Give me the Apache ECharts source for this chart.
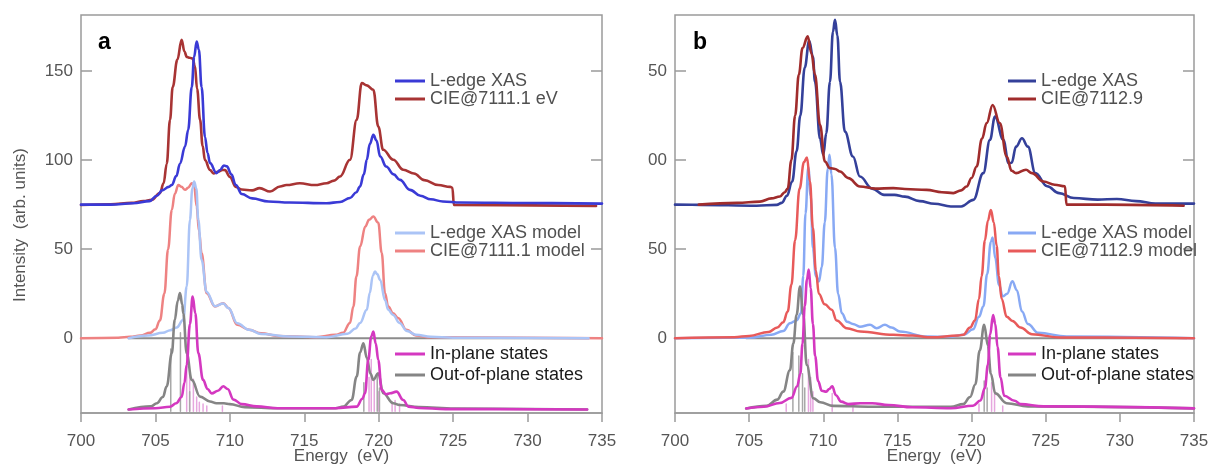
<!DOCTYPE html>
<html><head><meta charset="utf-8">
<script src="https://cdn.jsdelivr.net/npm/echarts@6/dist/echarts.min.js"></script>
<style>html,body{margin:0;padding:0;background:#fff}#c{width:1213px;height:468px}</style>
</head><body><div id="c"></div>
<script>
// ---------- tick labels ----------
const xTicks = [700,705,710,715,720,725,730,735];
const yTicks = [0,50,100,150];
const yLabelsA = ['0','50','100','150'];
const yLabelsB = ['0','50','00','50'];

// ---------- panel a ----------
const aXasExp = [[700,75],[702,75],[703.5,75.8],[704.6,77],[705.1,80],[705.45,83],[705.9,85],[706.1,86],[706.4,91],[706.65,98],[706.99,107.6],[707.2,117],[707.44,141],[707.6,158],[707.77,166.6],[707.92,162],[708.1,141],[708.33,113],[708.5,104],[708.67,98.3],[709.1,92.7],[709.35,94.5],[709.6,97],[709.8,96.5],[710.1,92],[710.4,86],[710.8,81],[711.5,78.5],[712.6,76.8],[714,76.2],[716.5,75.8],[717.4,76.5],[718.07,78.7],[718.5,82],[718.74,85.2],[719.0,92],[719.2,100.2],[719.4,109],[719.64,114.2],[719.85,111],[720.1,102],[720.5,96.4],[721.0,92],[721.43,88.9],[722.1,83.3],[722.8,80],[723.5,78],[724.3,76.8],[725.5,76.2],[730,75.9],[735,75.6]];
const aCieExp = [[700,74.8],[702,75.2],[703.4,76],[704.2,77],[704.75,77.7],[705.3,81.5],[705.55,87],[705.76,98],[705.98,122.6],[706.16,141],[706.47,156.3],[706.76,167.6],[706.95,161],[707.1,158],[707.3,157.5],[707.5,157],[707.65,153],[707.8,140],[708.0,122.6],[708.17,108],[708.33,100],[708.67,94.5],[708.9,92.5],[709.2,93.5],[709.5,94.5],[709.67,94.4],[710.0,90.6],[710.4,85],[710.8,83.5],[711.5,83],[712.0,84.3],[712.7,82.4],[713.37,85.2],[713.8,86],[714.7,87],[715.7,86],[716.5,87],[717.0,88.5],[717.4,90.8],[718.07,100.2],[718.52,122.6],[718.86,143.3],[719.2,142],[719.64,139.5],[719.97,118.9],[720.3,105.8],[720.98,100.2],[721.65,94.6],[722.37,92.5],[723.06,88.8],[724,86],[724.8,85],[724.95,84.5],[725.05,74.8],[734.6,74.3]];
const aXasModel = [[703.2,0],[704.5,1.5],[705.5,3],[706.0,4.5],[706.43,6],[706.87,10.3],[707.1,29],[707.32,66.5],[707.48,84],[707.6,88],[707.75,84],[707.88,66.5],[708.1,44],[708.44,26],[709.0,18],[709.56,19.5],[709.9,17],[710.5,8.4],[711.3,4.7],[712.1,2.4],[714,1],[716.5,0.6],[717.9,2.5],[718.45,5.5],[718.75,8.6],[719.2,16],[719.4,25.4],[719.6,35],[719.75,37.4],[719.9,36],[720.1,32.7],[720.42,21.5],[720.64,16],[720.97,13],[721.4,8.6],[721.9,4],[722.5,2],[723.5,0.8],[725,0.3],[734.1,0]];
const aCieModel = [[700,0],[702.5,0.3],[703.3,0.8],[704.0,1.5],[704.64,3],[705.0,5],[705.3,10],[705.6,25],[705.85,50],[706.1,72],[706.3,81],[706.54,86],[706.75,85],[706.99,83.3],[707.2,84.5],[707.44,87],[707.6,86],[707.77,74],[707.93,60],[708.1,47.8],[708.44,25.3],[709.0,17.8],[709.56,19.7],[709.9,17],[710.5,7.5],[711.3,4.7],[712.1,2.8],[713.2,1.3],[715.8,0.6],[717.1,1.9],[717.6,3],[718.07,8.6],[718.3,17.8],[718.5,34.6],[718.75,51.5],[719.1,62.7],[719.35,66.5],[719.64,68.3],[719.97,64.8],[720.2,48],[720.42,25.4],[720.64,17.8],[720.97,14],[721.3,11.4],[721.87,4.7],[722.5,1.5],[723.5,0.5],[735,0]];
const aInPlane = [[703.2,-40],[705.0,-39.3],[705.98,-38.5],[706.4,-36.5],[706.76,-33],[706.95,-25],[707.1,-15],[707.32,8],[707.5,23.4],[707.68,14],[707.88,-8.4],[708.2,-23.4],[708.5,-28.5],[708.78,-31],[709.2,-29.5],[709.56,-27],[709.85,-28.5],[710.25,-34.5],[710.8,-37],[711.8,-38.3],[713.2,-39.3],[717.1,-39.3],[718.52,-38.4],[718.9,-34],[719.08,-30.9],[719.3,-12.2],[719.5,1],[719.64,3.7],[719.8,-3],[719.97,-12.2],[720.2,-29],[720.5,-31.5],[720.76,-30.9],[721.2,-30],[721.65,-34.7],[721.99,-38.4],[722.7,-39.2],[724.5,-39.8],[734,-40]];
const aOutPlane = [[703.2,-40],[704.7,-38.3],[705.1,-36.5],[705.5,-33],[705.76,-27],[706.1,-8.4],[706.3,10.3],[706.5,21],[706.65,25.3],[706.8,19],[706.87,14],[707.1,-8.4],[707.44,-23.4],[708.0,-32.8],[708.66,-35.5],[709.1,-36.5],[709.6,-36.5],[710.0,-37],[711,-38.7],[713.2,-39.3],[717.1,-39.3],[717.62,-38.4],[718.18,-34.7],[718.52,-21.6],[718.75,-8],[718.97,-2.8],[719.2,-11],[719.45,-20],[719.64,-23.4],[719.97,-19.7],[720.3,-30.9],[720.98,-36.5],[721.4,-37.5],[722.7,-38.7],[725.1,-39.5],[734,-40]];
const aInSticks = [[707.1,-8],[707.3,-20],[707.55,-23],[707.77,-33],[707.95,-36],[708.2,-37],[708.45,-38],[709.5,-38],[719.35,-22],[719.5,-12],[719.7,-24],[720.0,-30],[720.9,-36],[721.1,-35],[721.4,-37]];
const aOutSticks = [[706.03,-6],[706.68,3],[707.3,-30],[719.0,-25],[719.9,-20],[720.05,-28]];
const aZero = [[703.2,0],[734.1,0]];

// ---------- panel b ----------
const bXasExp = [[700,75],[701.7,74.9],[705.5,74.4],[706.86,74.9],[707.2,76],[707.55,80],[707.9,88],[708.2,105],[708.45,125],[708.75,152],[709.05,167],[709.3,158],[709.44,144],[709.78,112],[710.0,103],[710.2,115],[710.45,144],[710.65,172],[710.79,178.8],[710.95,170],[711.13,144],[711.46,116],[712.0,102],[712.47,90.8],[713.3,84],[714.1,80.5],[714.8,80.5],[715.5,79.5],[716.5,77],[717.5,75.5],[718.6,74],[719.3,74],[720.12,77.7],[720.79,92.7],[721.24,111.4],[721.58,124.5],[722.14,111.4],[722.5,98.3],[722.7,98.5],[723.0,107.6],[723.4,112.3],[723.8,107.6],[724.3,92.7],[725.1,85.3],[725.9,81.5],[726.9,78.7],[728.5,77.8],[729.8,78.2],[731.1,77],[732.4,75.6],[735,75.6]];
const bCieExp = [[701.6,75],[704.2,76],[705.73,76.7],[706.5,78.5],[707.08,79.6],[707.4,82],[707.6,84],[707.85,100],[708.1,125],[708.35,148],[708.6,163],[708.95,169.5],[709.2,160],[709.44,148],[709.78,119.8],[710.11,99.2],[710.45,95.5],[710.8,95],[711.13,93.6],[711.69,89.9],[712.47,85.2],[713.5,84],[714.72,84.3],[715.5,83.8],[716.97,83.3],[718.0,82],[718.77,81.5],[719.3,83],[719.67,85.2],[720.0,90],[720.34,96.4],[720.7,112],[721.02,120.8],[721.42,131],[721.9,120.8],[722.37,102],[722.7,94],[723.0,92.7],[723.67,94.6],[724.07,92.7],[724.85,88],[725.6,86.2],[726.3,85.3],[726.4,75],[729,75],[734.3,74.4]];
const bXasModel = [[700,0],[705,0.3],[706.5,2],[707.3,4],[707.75,8.4],[708.2,10],[708.5,14],[708.65,35],[708.8,70],[708.99,96],[709.15,80],[709.3,50.6],[709.5,35],[709.7,31.8],[709.9,40],[710.1,65],[710.3,95],[710.42,103],[710.55,92],[710.79,50.6],[711.0,25],[711.25,14],[711.6,9.3],[712.0,8],[712.47,6.5],[713.15,7.5],[713.6,5.6],[714.16,7.5],[714.6,6],[715.17,3.7],[716.97,0.9],[718.5,0.8],[719.5,2],[720.1,5],[720.5,12],[720.8,18],[721.05,36],[721.3,54],[721.42,56.5],[721.6,45],[721.85,30],[722.1,23.5],[722.4,25],[722.75,32],[723.05,27],[723.4,15],[723.8,8],[724.5,3],[726.4,1],[735,0]];
const bCieModel = [[700,0],[704,0.5],[705,1.3],[706.3,3.5],[706.9,6],[707.3,9],[707.6,15],[707.85,30],[708.1,55],[708.4,84],[708.7,99],[708.9,101.5],[709.1,88],[709.3,62],[709.5,38],[709.7,25],[710.1,19],[710.57,16],[710.9,10],[711.58,5.6],[712.5,3.7],[714.72,1.9],[716,1.5],[717.3,0.5],[719.1,1.5],[719.44,2],[719.9,6],[720.23,10],[720.5,22],[720.68,35],[720.9,55],[721.1,66],[721.3,72],[721.5,65],[721.69,52],[721.84,35],[722.03,22],[722.37,12],[722.76,9.7],[723.3,6],[724.07,2.2],[726,0.4],[735,0]];
const bInPlane = [[704.8,-39.5],[706,-38.5],[707.06,-36.4],[707.85,-33.5],[708.24,-27],[708.45,-20],[708.6,-3],[708.75,18],[708.9,33],[709.02,38.5],[709.15,28],[709.3,8],[709.45,-10],[709.65,-24],[709.9,-29.5],[710.2,-30],[710.4,-28.5],[710.6,-27],[710.85,-32],[711.2,-35.6],[711.7,-37],[712.5,-36.5],[713.3,-36.5],[714.4,-37.5],[716,-38.8],[718.6,-39.3],[720.1,-37.9],[720.6,-35],[720.9,-28],[721.1,-15],[721.25,2],[721.45,13],[721.6,8],[721.75,-5],[721.95,-22],[722.2,-32.3],[722.9,-35.1],[723.3,-37],[724.85,-38.3],[735,-39.4]];
const bOutPlane = [[704.8,-39.5],[706.18,-38],[706.9,-34.5],[707.3,-30],[707.75,-18],[707.98,-3],[708.2,13.1],[708.43,29],[708.65,13.1],[708.88,-15],[709.33,-33.7],[709.8,-36],[710.67,-38],[713.3,-38.5],[718.6,-38.5],[719.44,-37],[719.9,-33],[720.25,-26],[720.55,-7],[720.85,7.5],[721.1,-4],[721.3,-20],[721.6,-31],[722.36,-36.5],[723.8,-38.3],[735,-39.4]];
const bInSticks = [[707.5,-37],[709.0,-12],[709.15,-22],[709.3,-30],[710.6,-31],[712,-38],[720.5,-37],[721.35,-25],[721.55,-30],[722.1,-38]];
const bOutSticks = [[707.95,-8],[708.35,-10],[708.6,-20],[708.75,-28],[720.85,-24],[721.05,-28]];
const bZero = [[704.8,0],[734.5,0]];

const stickBase = -41;

// ---------- helpers ----------
function sticks(list){const o=[];list.forEach(p=>{o.push([p[0],stickBase],[p[0],p[1]],[p[0],'-']);});return o;}
function curve(name,data,color,width,xi,yi,z,smooth){
  return {type:'line',name:name,data:data,xAxisIndex:xi,yAxisIndex:yi,symbol:'none',
    smooth:smooth===undefined?0.4:smooth,smoothMonotone:'x',color:color,
    lineStyle:{color:color,width:width,cap:'round',join:'round'},itemStyle:{color:color},z:z,silent:true,animation:false};
}
const axisGray='#9a9a9a';
const FONT='Liberation Sans, Arial, sans-serif';
function xAx(gi){
  return {gridIndex:gi,type:'value',min:700,max:735,interval:5,
    axisLine:{show:true,onZero:false,lineStyle:{color:axisGray,width:1.5}},
    axisTick:{show:true,inside:false,length:9,lineStyle:{color:axisGray,width:1.5}},
    axisLabel:{margin:20,color:'#555',fontSize:17,fontFamily:FONT,formatter:v=>String(v)},
    splitLine:{show:false},
    name:'Energy  (eV)',nameLocation:'middle',nameGap:35,nameMoveOverlap:false,
    nameTextStyle:{color:'#555',fontSize:17,fontFamily:FONT}};
}
function yAx(gi,pos,labels){
  return {gridIndex:gi,type:'value',position:pos,min:-42,max:181.5,
    axisLine:{show:false,onZero:false},splitLine:{show:false},
    axisTick:{show:true,inside:true,length:11,customValues:yTicks,lineStyle:{color:axisGray,width:1.5}},
    axisLabel:{show:!!labels,customValues:yTicks,margin:8,color:'#555',fontSize:17,fontFamily:FONT,
      formatter:v=>labels?labels[yTicks.indexOf(v)]:''}};
}
function lg(left,top,items,size,color,iw,gap){
  return {left:left,top:top,orient:'vertical',padding:0,itemWidth:iw,itemHeight:3,itemGap:gap,icon:'rect',
    data:items,selectedMode:false,textStyle:{fontSize:size,color:color,fontFamily:FONT,padding:[0,0,0,0]}};
}

const C = {
  aBlue:'#3a3ad6', aRed:'#a83434', aLBlue:'#abc4f6', aLRed:'#ee8282',
  bBlue:'#34409a', bRed:'#a02c2c', bLBlue:'#88a9f4', bLRed:'#e85a5a',
  mag:'#d438c0', gray:'#858585', magStick:'#e6a6de', grayStick:'#a8a8a8', zero:'#8c8c8c'
};

const series = [
  // panel a
  curve('zeroA',aZero,C.zero,2,0,0,3,false),
  curve('aInSt',sticks(aInSticks),C.magStick,1.5,0,0,2,false),
  curve('aOutSt',sticks(aOutSticks),C.grayStick,1.5,0,0,2,false),
  curve('CIE@7111.1 model',aCieModel,C.aLRed,2.5,0,0,4),
  curve('L-edge XAS model',aXasModel,C.aLBlue,2.5,0,0,5),
  curve('Out-of-plane states',aOutPlane,C.gray,2.6,0,0,6),
  curve('In-plane states',aInPlane,C.mag,2.6,0,0,7),
  curve('CIE@7111.1 eV',aCieExp,C.aRed,2.6,0,0,8),
  curve('L-edge XAS',aXasExp,C.aBlue,2.6,0,0,9),
  // panel b
  curve('zeroB',bZero,C.zero,2,1,2,3,false),
  curve('bInSt',sticks(bInSticks),C.magStick,1.5,1,2,2,false),
  curve('bOutSt',sticks(bOutSticks),C.grayStick,1.5,1,2,2,false),
  curve('L-edge XAS model ',bXasModel,C.bLBlue,2.5,1,2,4),
  curve('CIE@7112.9 model',bCieModel,C.bLRed,2.5,1,2,5),
  curve('Out-of-plane states ',bOutPlane,C.gray,2.6,1,2,6),
  curve('In-plane states ',bInPlane,C.mag,2.6,1,2,7),
  curve('L-edge XAS ',bXasExp,C.bBlue,2.6,1,2,8),
  curve('CIE@7112.9',bCieExp,C.bRed,2.6,1,2,9)
];

const option = {
  animation:false,
  backgroundColor:'#fff',
  grid:[
    {left:81,top:15,width:521,height:398,show:true,borderColor:axisGray,borderWidth:1.5,outerBoundsMode:'none',containLabel:false},
    {left:675,top:15,width:519,height:398,show:true,borderColor:axisGray,borderWidth:1.5,outerBoundsMode:'none',containLabel:false}
  ],
  xAxis:[xAx(0),xAx(1)],
  yAxis:[yAx(0,'left',yLabelsA),yAx(0,'right',null),yAx(1,'left',yLabelsB),yAx(1,'right',null)],
  legend:[
    lg(395,72,['L-edge XAS','CIE@7111.1 eV'],18,'#505050',30,0),
    lg(395,224,['L-edge XAS model','CIE@7111.1 model'],18,'#505050',30,0),
    lg(395,345,['In-plane states','Out-of-plane states'],18,'#1a1a1a',30,3),
    lg(1008,72,['L-edge XAS ','CIE@7112.9'],18,'#505050',28,0),
    lg(1008,224,['L-edge XAS model ','CIE@7112.9 model'],18,'#505050',28,0),
    lg(1008,345,['In-plane states ','Out-of-plane states '],18,'#1a1a1a',28,3)
  ],
  graphic:[
    {type:'text',left:98,top:31,style:{text:'a',font:'bold 23px '+FONT,fill:'#000'}},
    {type:'text',left:693,top:31,style:{text:'b',font:'bold 23px '+FONT,fill:'#000'}},
    {type:'text',x:20,y:225,rotation:Math.PI/2,style:{text:'Intensity  (arb. units)',font:'17px '+FONT,fill:'#555',align:'center',verticalAlign:'middle'}}
  ],
  series:series
};
const chart = echarts.init(document.getElementById('c'));
chart.setOption(option);
</script></body></html>
